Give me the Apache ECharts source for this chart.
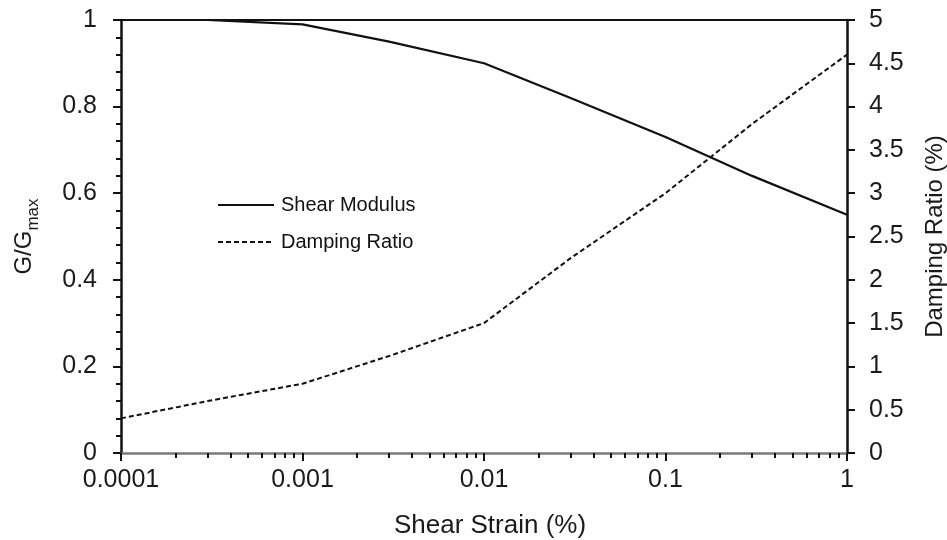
<!DOCTYPE html>
<html>
<head>
<meta charset="utf-8">
<script src="https://cdn.jsdelivr.net/npm/echarts@6/dist/echarts.min.js"></script>
<style>
  html, body { margin: 0; padding: 0; background: #ffffff; }
  #chart { width: 947px; height: 540px; }
</style>
</head>
<body>
<div id="chart"></div>
<script>
// Shear strain (%) at which the curves are sampled
const strain = [0.0001, 0.0003, 0.001, 0.003, 0.01, 0.03, 0.1, 0.3, 1];
// Normalised shear modulus G/Gmax
const shearModulus = [1.0, 1.0, 0.99, 0.95, 0.90, 0.82, 0.73, 0.64, 0.55];
// Damping ratio (%)
const dampingRatio = [0.4, 0.6, 0.8, 1.12, 1.5, 2.25, 3.0, 3.8, 4.6];

// Decade ticks of the strain axis and their labels
const xTickValues = [0.0001, 0.001, 0.01, 0.1, 1];
const xTickLabels = ['0.0001', '0.001', '0.01', '0.1', '1'];

const seriesNames = ['Shear Modulus', 'Damping Ratio'];

// Logarithmic minor ticks (2..9 within each decade)
const minorTicks = [];
for (let d = 0; d < xTickValues.length - 1; d++) {
  for (let m = 2; m <= 9; m++) {
    minorTicks.push(Number((xTickValues[d] * m).toPrecision(6)));
  }
}

const FONT = '"Liberation Sans", Arial, sans-serif';
const INK = '#111111';
const TEXT = '#1a1a1a';

function pairs(xs, ys) {
  return xs.map((x, i) => [x, ys[i]]);
}

function strainLabel(v) {
  const k = Math.round(Math.log10(v));
  const idx = xTickValues.findIndex(t => Math.round(Math.log10(t)) === k);
  return idx >= 0 ? xTickLabels[idx] : '';
}

const chart = echarts.init(document.getElementById('chart'), null, { renderer: 'canvas' });

chart.setOption({
  backgroundColor: '#ffffff',
  animation: false,
  textStyle: { fontFamily: FONT },
  grid: {
    left: 121, right: 100, top: 20, bottom: 87,
    containLabel: false,
    outerBoundsMode: 'none'
  },
  legend: {
    data: seriesNames,
    orient: 'vertical',
    left: 217,
    top: 195,
    padding: 0,
    itemWidth: 56,
    itemHeight: 14,
    itemGap: 17,
    itemStyle: { opacity: 0 },
    textStyle: { fontFamily: FONT, fontSize: 20, lineHeight: 20, color: INK, padding: [0, 0, 0, 2] }
  },
  xAxis: [
    {
      type: 'log',
      logBase: 10,
      min: 0.0001,
      max: 1,
      position: 'bottom',
      name: 'Shear Strain (%)',
      nameLocation: 'middle',
      nameGap: 60,
      nameTextStyle: { fontFamily: FONT, fontSize: 26, color: TEXT, padding: [0, 0, 0, 12] },
      axisLine: { show: true, lineStyle: { color: '#7a7a7a', width: 2.5 } },
      axisTick: { show: true, length: 8, lineStyle: { color: INK, width: 2 } },
      axisLabel: {
        show: true, margin: 15, fontFamily: FONT, fontSize: 25, color: TEXT,
        formatter: strainLabel
      },
      splitLine: { show: false },
      minorTick: { show: false }
    },
    {
      type: 'log',
      logBase: 10,
      min: 0.0001,
      max: 1,
      position: 'bottom',
      axisLine: { show: false },
      axisLabel: { show: false },
      axisTick: { show: true, length: 5, customValues: minorTicks, lineStyle: { color: INK, width: 2 } },
      splitLine: { show: false }
    },
    {
      type: 'value',
      min: 0,
      max: 1,
      position: 'top',
      axisLine: { show: true, lineStyle: { color: INK, width: 2 } },
      axisTick: { show: false },
      axisLabel: { show: false },
      splitLine: { show: false }
    }
  ],
  yAxis: [
    {
      type: 'value',
      min: 0,
      max: 1,
      interval: 0.2,
      position: 'left',
      name: '{g|G/G}{s|max}',
      nameLocation: 'middle',
      nameRotate: 90,
      nameGap: 85,
      nameTextStyle: {
        rich: {
          g: { fontFamily: FONT, fontSize: 24, color: TEXT, lineHeight: 30, verticalAlign: 'bottom' },
          s: { fontFamily: FONT, fontSize: 17, color: TEXT, lineHeight: 30, verticalAlign: 'bottom', padding: [0, 0, -6, 0] }
        }
      },
      axisLine: { show: true, lineStyle: { color: INK, width: 2.5 } },
      axisTick: { show: true, length: 8, lineStyle: { color: INK, width: 2 } },
      minorTick: { show: true, splitNumber: 5, length: 5, lineStyle: { color: INK, width: 2 } },
      axisLabel: { margin: 24, fontFamily: FONT, fontSize: 25, color: TEXT },
      splitLine: { show: false },
      minorSplitLine: { show: false }
    },
    {
      type: 'value',
      min: 0,
      max: 5,
      interval: 0.5,
      position: 'right',
      name: 'Damping Ratio (%)',
      nameLocation: 'middle',
      nameRotate: 90,
      nameGap: 76,
      nameTextStyle: { fontFamily: FONT, fontSize: 24, color: TEXT },
      axisLine: { show: true, lineStyle: { color: INK, width: 2.5 } },
      axisTick: { show: true, length: 8, lineStyle: { color: INK, width: 2 } },
      axisLabel: { margin: 22, fontFamily: FONT, fontSize: 25, color: TEXT },
      splitLine: { show: false }
    }
  ],
  series: [
    {
      name: seriesNames[0],
      type: 'line',
      xAxisIndex: 0,
      yAxisIndex: 0,
      data: pairs(strain, shearModulus),
      symbol: 'none',
      lineStyle: { color: INK, width: 2.2, type: 'solid' },
      itemStyle: { color: INK },
      z: 3
    },
    {
      name: seriesNames[1],
      type: 'line',
      xAxisIndex: 0,
      yAxisIndex: 1,
      data: pairs(strain, dampingRatio),
      symbol: 'none',
      lineStyle: { color: INK, width: 2, type: [5, 3] },
      itemStyle: { color: INK },
      z: 3
    }
  ]
});
</script>
</body>
</html>
